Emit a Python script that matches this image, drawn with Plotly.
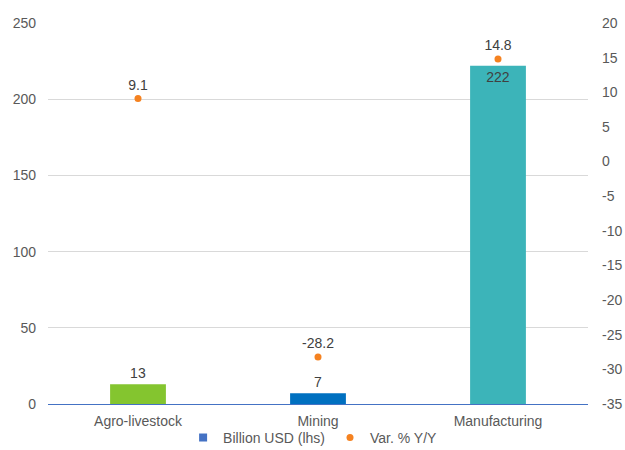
import plotly.graph_objects as go

sectors = ["Agro-livestock", "Mining", "Manufacturing"]
billion_usd = [13, 7, 222]
var_pct = [9.1, -28.2, 14.8]
bar_colors = ["#84C52F", "#0070C0", "#3CB4B9"]

left_ticks = [0, 50, 100, 150, 200, 250]
right_ticks = list(range(-35, 21, 5))

font_family = "Liberation Sans, Arial, sans-serif"
text_color = "#404040"
tick_color = "#595959"

fig = go.Figure()

fig.add_trace(go.Bar(
    x=sectors, y=billion_usd,
    marker=dict(color=bar_colors, line=dict(width=0)),
    width=0.31,
    text=[str(v) for v in billion_usd],
    textposition=["outside", "outside", "inside"],
    insidetextanchor="end",
    textfont=dict(size=14, color=text_color, family=font_family),
    cliponaxis=False,
    showlegend=False,
    name="Billion USD (lhs)",
))

# legend entry for the bar series
fig.add_trace(go.Scatter(
    x=[None], y=[None], mode="markers",
    marker=dict(symbol="square", size=8, color="#4472C4"),
    name="Billion USD (lhs)",
))

fig.add_trace(go.Scatter(
    x=sectors, y=var_pct, yaxis="y2", mode="markers+text",
    marker=dict(size=7, color="#F58220"),
    text=[f"{v:.1f}" for v in var_pct],
    textposition="top center",
    textfont=dict(size=14, color=text_color, family=font_family),
    cliponaxis=False,
    name="Var. % Y/Y",
))

fig.update_layout(
    width=625, height=450,
    margin=dict(l=48, r=37, t=23, b=46, autoexpand=False),
    paper_bgcolor="white", plot_bgcolor="white",
    font=dict(family=font_family, size=14, color=tick_color),
    bargap=0.69,
    xaxis=dict(
        showgrid=False, showline=True, linecolor="#4472C4", linewidth=1,
        ticks="", ticklabelstandoff=4, automargin=False,
        tickfont=dict(size=14, color=tick_color),
    ),
    yaxis=dict(
        range=[0, 250], tickvals=left_ticks, showgrid=True,
        gridcolor="#D9D9D9", gridwidth=1, zeroline=False,
        showline=False, ticks="", ticklabelstandoff=11, automargin=False,
        tickfont=dict(size=14, color=tick_color),
    ),
    yaxis2=dict(
        range=[-35, 20], tickvals=right_ticks,
        ticktext=[str(v) for v in right_ticks],
        overlaying="y", side="right",
        showgrid=False, zeroline=False, showline=False, ticks="",
        ticklabelstandoff=13, automargin=False,
        tickfont=dict(size=14, color=tick_color),
    ),
    legend=dict(
        orientation="h", x=0.49, xanchor="center", y=-0.047, yanchor="top",
        font=dict(size=14, color=tick_color), itemwidth=30,
        bgcolor="rgba(0,0,0,0)", tracegroupgap=0,
    ),
)

fig.write_html("out.html")
